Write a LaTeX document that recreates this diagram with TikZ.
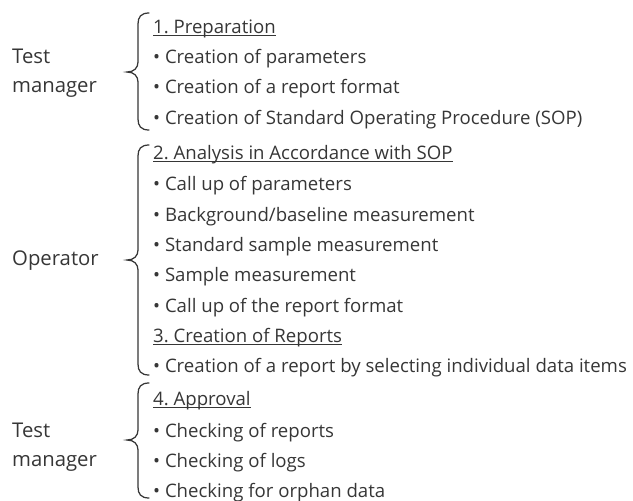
\documentclass[tikz,border=0pt]{standalone}
\usepackage{fontspec}
\setmainfont{Open Sans}
\frenchspacing
\definecolor{ink}{HTML}{363636}
\newcommand{\bracepath}[3]{% top, tip, bottom
  \draw[bracestyle] (149,#1) .. controls (141,#1) and (138,#1+4) .. (138,#1+11)
    -- (138,#2-10) .. controls (138,#2-4) and (134,#2) .. (127,#2)
    .. controls (134,#2) and (138,#2+4) .. (138,#2+10)
    -- (138,#3-11) .. controls (138,#3-4) and (141,#3) .. (149,#3);}
\begin{document}
\begin{tikzpicture}[x=1pt,y=-1pt,
  txt/.style={anchor=base west,inner sep=0pt,text=ink,font=\fontsize{18.6}{21}\selectfont},
  lbl/.style={anchor=base west,inner sep=0pt,text=ink,font=\fontsize{20.3}{23}\selectfont},
  bracestyle/.style={draw=ink,line width=1.25pt,line cap=round},
  uline/.style={draw=ink,line width=0.9pt}]
\useasboundingbox (0,0) rectangle (633,501);
% labels
\node[lbl] (tm1a) at (12,63) {Test};
\node[lbl] (tm1b) at (12,92) {manager};
\node[lbl] (op) at (12,265) {Operator};
\node[lbl] (tm2a) at (12,437) {Test};
\node[lbl] (tm2b) at (12,466) {manager};
% braces
\bracepath{13}{72}{130}
\bracepath{145}{260}{375}
\bracepath{383}{440}{498}
% list
\node[txt] (h1) at (153,33) {1. Preparation};
\node[txt] (a1) at (153,63) {• Creation of parameters};
\node[txt] (a2) at (153,93) {• Creation of a report format};
\node[txt] (a3) at (153,124) {• Creation of Standard Operating Procedure (SOP)};
\node[txt] (h2) at (153,159) {2. Analysis in Accordance with SOP};
\node[txt] (b1) at (153,190) {• Call up of parameters};
\node[txt] (b2) at (153,221) {• Background/baseline measurement};
\node[txt] (b3) at (153,251) {• Standard sample measurement};
\node[txt] (b4) at (153,281) {• Sample measurement};
\node[txt] (b5) at (153,312) {• Call up of the report format};
\node[txt] (h3) at (153,342) {3. Creation of Reports};
\node[txt] (c1) at (153,372) {• Creation of a report by selecting individual data items};
\node[txt] (h4) at (153,405) {4. Approval};
\node[txt] (d1) at (153,437) {• Checking of reports};
\node[txt] (d2) at (153,467) {• Checking of logs};
\node[txt] (d3) at (153,497) {• Checking for orphan data};
% underlines
\foreach \h in {h1,h2,h3,h4}
  \draw[uline] ([yshift=-2.5pt]\h.base west) -- ([yshift=-2.5pt]\h.base east);
\end{tikzpicture}
\end{document}
